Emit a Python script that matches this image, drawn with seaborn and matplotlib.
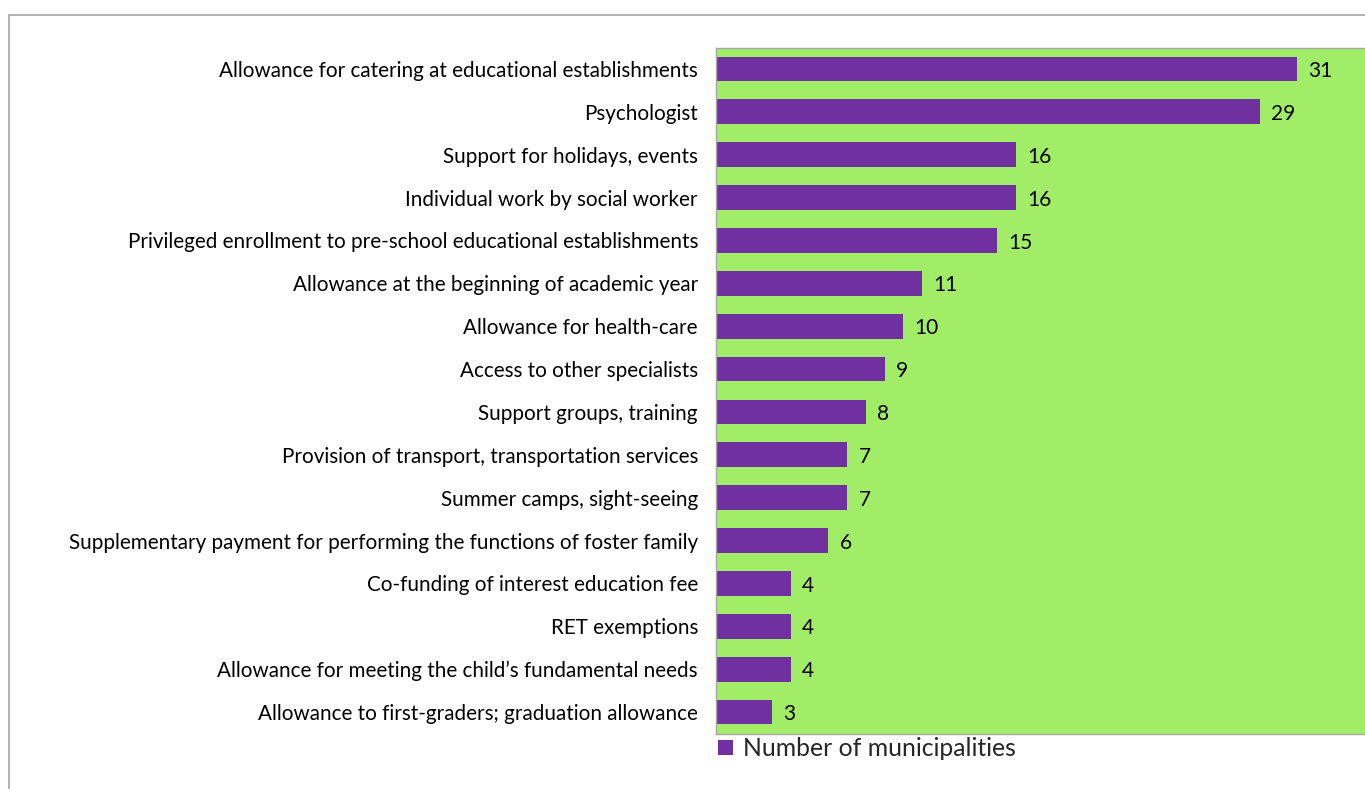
import matplotlib
matplotlib.use("Agg")
import matplotlib.pyplot as plt
from matplotlib.patches import Rectangle
import seaborn as sns
import pandas as pd

categories = [
    "Allowance for catering at educational establishments",
    "Psychologist",
    "Support for holidays, events",
    "Individual work by social worker",
    "Privileged enrollment to pre-school educational establishments",
    "Allowance at the beginning of academic year",
    "Allowance for health-care",
    "Access to other specialists",
    "Support groups, training",
    "Provision of transport, transportation services",
    "Summer camps, sight-seeing",
    "Supplementary payment for performing the functions of foster family",
    "Co-funding of interest education fee",
    "RET exemptions",
    "Allowance for meeting the child\u2019s fundamental needs",
    "Allowance to first-graders; graduation allowance",
]
values = [31, 29, 16, 16, 15, 11, 10, 9, 8, 7, 7, 6, 4, 4, 4, 3]
series_name = "Number of municipalities"

df = pd.DataFrame({"category": categories, "value": values})

sns.set_theme(style="white")
plt.rcParams["font.family"] = ["Lato", "DejaVu Sans"]

W, H = 1365, 789
fig = plt.figure(figsize=(W / 100, H / 100), dpi=100)
left, right, top, bottom = 716, 1372, 47.5, 733.5
ax = fig.add_axes([left / W, 1 - bottom / H, (right - left) / W, (bottom - top) / H])

purple = "#7030A0"
green = "#A1ED67"
ax.set_facecolor(green)

sns.barplot(data=df, x="value", y="category", orient="h", color=purple,
            width=0.58, saturation=1, linewidth=0, ax=ax, label=series_name)

ax.set_xlim(0, 35)
ax.set_xlabel("")
ax.set_ylabel("")
ax.set_xticks([])
ax.tick_params(axis="y", length=0, pad=13, labelsize=14.9, colors="black")

for s in ax.spines.values():
    s.set_color("#A6A6A6")
    s.set_linewidth(1.0)

for bar, v in zip(ax.patches, values):
    ax.text(bar.get_width() + 0.6, bar.get_y() + bar.get_height() / 2 + 0.05, str(v),
            va="center", ha="left", fontsize=15, color="black")

leg = ax.legend(loc="upper left", bbox_to_anchor=(0.0, -0.002), frameon=False,
                fontsize=17.8, handlelength=0.6, handleheight=0.6, handletextpad=0.4,
                borderaxespad=0, borderpad=0.1)

# chart area border (partially visible)
fig.patches.append(Rectangle((9 / W, -0.1), 1.2, 1 - 15 / H + 0.1,
                             transform=fig.transFigure, fill=False,
                             edgecolor="#A6A6A6", linewidth=1.2))

fig.savefig("out.png", dpi=100, facecolor="white")
